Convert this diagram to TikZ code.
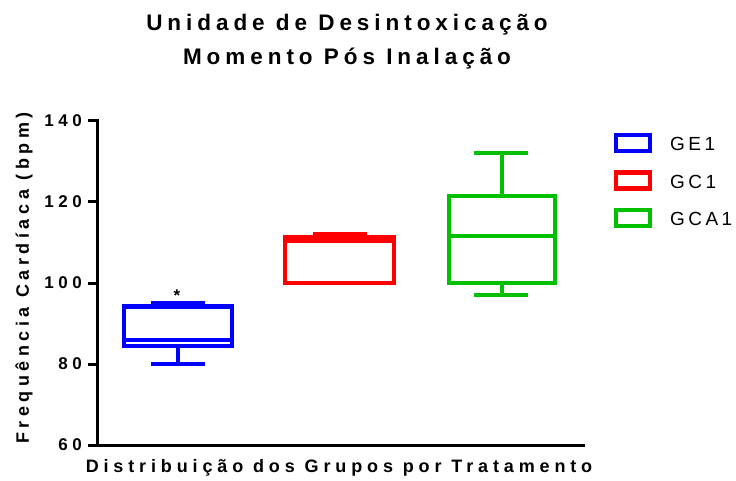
\documentclass[tikz,border=0pt]{standalone}
\usepackage{fontspec}
\setmainfont{Liberation Sans}
\newfontfamily\titlefont[LetterSpace=22]{Liberation Sans Bold}
\newfontfamily\labelfont[LetterSpace=27]{Liberation Sans Bold}
\newfontfamily\ylabelfont[LetterSpace=25]{Liberation Sans Bold}
\newfontfamily\tickfont{Liberation Sans Bold}
\newfontfamily\legfont[LetterSpace=18]{Liberation Sans}
\newcommand\spdigits[3]{#1\kern4.5pt#2\kern4.5pt#3}
\definecolor{cblue}{RGB}{0,0,255}
\definecolor{cred}{RGB}{255,0,0}
\definecolor{cgreen}{RGB}{0,192,0}
\begin{document}
\begin{tikzpicture}[x=1pt,y=-1pt,
  bx/.style={line width=4.3pt},
  axisline/.style={line width=3pt},
  ticklab/.style={anchor=east,inner sep=0pt,font=\tickfont\fontsize{17}{17}\selectfont},
  leglab/.style={anchor=west,inner sep=0pt,font=\legfont\fontsize{19}{19}\selectfont}]
\useasboundingbox (0,0) rectangle (736,481);
% titles
\node[font=\titlefont\fontsize{22.5}{22.5}\selectfont] (t1) at (347,25) {Unidade de Desintoxicação};
\node[font=\titlefont\fontsize{22.5}{22.5}\selectfont] (t2) at (347,59) {Momento Pós Inalação};
% axes
\coordinate (ytop) at (97,121);
\coordinate (orig) at (97,445);
\coordinate (xend) at (583,445);
\draw[axisline,line cap=rect] (ytop) -- (orig) -- (xend);
\foreach \v/\yy in {140/121,120/202,100/283,80/364,60/445}{
  \draw[axisline] (88,\yy) -- (97,\yy);
}
\foreach \v/\yy in {140/121,120/202,100/283}{
  \node[ticklab] (tk\v) at (82,\yy) {\expandafter\spdigits\v};
}
\node[ticklab] (tk80) at (82,364) {8\kern4.5pt 0};
\node[ticklab] (tk60) at (82,445) {6\kern4.5pt 0};
\node[rotate=90,font=\ylabelfont\fontsize{18}{18}\selectfont] (ylab) at (24,278) {Frequência Cardíaca (bpm)};
\node[font=\labelfont\fontsize{18}{18}\selectfont] (xlab) at (339,468) {Distribuição dos Grupos por Tratamento};
% GE1 (blue)
\begin{scope}[cblue]
\draw[bx] (124,306.5) rectangle (232,346.2);
\draw[bx] (124,340) -- (232,340);
\draw[bx] (178,346.2) -- (178,364);
\draw[bx] (151,364) -- (205,364);
\draw[bx] (178,306.5) -- (178,303);
\draw[bx] (151,303) -- (205,303);
\end{scope}
\node[font=\bfseries\fontsize{17}{17}\selectfont,inner sep=0pt] (ast) at (177,296) {*};
% GC1 (red)
\begin{scope}[cred]
\draw[bx] (285,237) rectangle (394,283);
\draw[bx] (285,241.3) -- (394,241.3);
\draw[bx] (313,234) -- (367,234);
\end{scope}
% GCA1 (green)
\begin{scope}[cgreen]
\draw[bx] (449,196) rectangle (555,283);
\draw[bx] (449,236) -- (555,236);
\draw[bx] (502,196) -- (502,153);
\draw[bx] (474,153) -- (528,153);
\draw[bx] (502,283) -- (502,295);
\draw[bx] (474,295) -- (528,295);
\end{scope}
% legend
\draw[bx,cblue] (616,135) rectangle (650,151);
\draw[bx,cred] (616,172.5) rectangle (650,188.5);
\draw[bx,cgreen] (616,210) rectangle (650,226);
\node[leglab] (l1) at (670,144) {GE1};
\node[leglab] (l2) at (670,181.5) {GC1};
\node[leglab] (l3) at (670,219) {GCA1};
\end{tikzpicture}
\end{document}
